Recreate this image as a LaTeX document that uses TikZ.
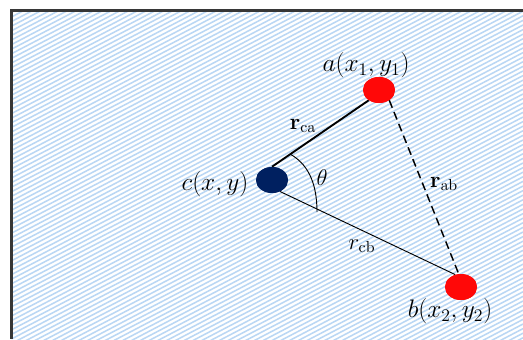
\documentclass[tikz,border=0pt]{standalone}
\usepackage{fix-cm}
\usetikzlibrary{shapes.geometric}
\definecolor{hatch}{RGB}{186,215,244}
\definecolor{navydot}{RGB}{0,32,96}
\definecolor{reddot}{RGB}{255,8,8}
\definecolor{framegray}{RGB}{55,55,55}
\tikzset{
  dot/.style={shape=ellipse, minimum width=24pt, minimum height=19.5pt, inner sep=0pt},
  lbl/.style={inner sep=0pt, font=\fontsize{19}{22}\selectfont},
  rlbl/.style={inner sep=0pt, font=\fontsize{17}{20}\selectfont},
}
\begin{document}
\begin{tikzpicture}[x=0.75pt, y=-0.75pt]
\useasboundingbox (0,0) rectangle (523,339);
\fill[white] (0,0) rectangle (523,339);
% hatched background
\begin{scope}
  \clip (11.5,10.5) rectangle (523,339);
  \foreach \i in {0,4.6,...,620} {
    \draw[hatch, line width=1.15pt] (0,\i) -- (523,\i-274);
  }
\end{scope}
% frame
\draw[framegray, line width=2pt] (11.5,339) -- (11.5,10.5) -- (523,10.5);

% points
\node[dot, fill=navydot] (c) at (272,180) {};
\node[dot, fill=reddot] (a) at (379,90) {};
\node[dot, fill=reddot] (b) at (461,287) {};

% connectors
\draw[line width=1.4pt] (c.north) -- (a.225);
\draw[line width=0.7pt] (c.-55) -- (b.115);
\draw[line width=1.1pt, dash pattern=on 6pt off 3.5pt] (a.-45) -- (b.100);
\node[dot, fill=navydot] at (c) {};
\node[dot, fill=reddot] at (a) {};
\node[dot, fill=reddot] at (b) {};

% angle arc
\coordinate (th1) at (290,154);
\coordinate (th2) at (317,212);
\draw[line width=0.7pt] (th1) .. controls (306,163) and (317,180) .. (th2);

% labels
\node[lbl] (la) at (366,65) {$a(x_1,y_1)$};
\node[lbl] (lc) at (215,184) {$c(x,y)$};
\node[lbl] (lb) at (450,311) {$b(x_2,y_2)$};
\node[rlbl] (rca) at (303,126) {$\mathbf{r}_{\mathrm{ca}}$};
\node[rlbl] (rab) at (444,184) {$\mathbf{r}_{\mathrm{ab}}$};
\node[rlbl] (rcb) at (362,246) {$r_{\mathrm{cb}}$};
\node[rlbl] (th) at (322,178) {$\theta$};
\end{tikzpicture}
\end{document}
